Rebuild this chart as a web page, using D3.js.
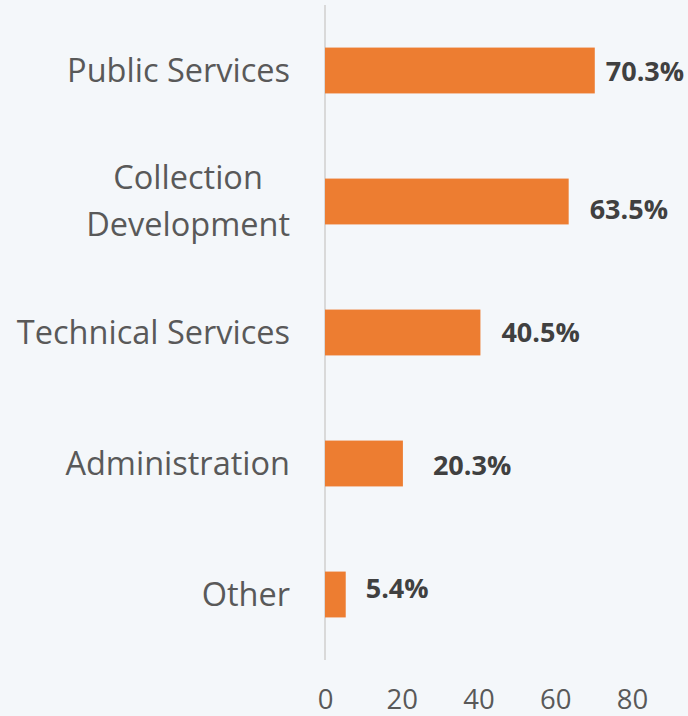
<!DOCTYPE html>
<html>
<head>
<meta charset="utf-8">
<script src="https://cdn.jsdelivr.net/npm/d3@7"></script>
<style>
  html, body { margin: 0; padding: 0; background: #f4f7fa; }
  svg { display: block; font-family: "Open Sans", sans-serif; }
</style>
</head>
<body>
<svg id="chart" width="688" height="716"></svg>
<script>
    'use strict';

    // data
    var categories = ["Public Services", "Collection\nDevelopment", "Technical Services", "Administration", "Other"];
    var values = [70.3, 63.5, 40.5, 20.3, 5.4];
    var tickValues = [0, 20, 40, 60, 80];

    // hand-placed data label nudges (style only)
    var labelDx = [11, 21, 21, 30, 20];
    var labelDy = [10, 17, 9, 11, 3];

    var svg = d3.select("#chart"),
        labelRight = 290;

    svg.append("rect")
        .attr("width", 688)
        .attr("height", 716)
        .attr("fill", "#f4f7fa");

    var x = d3.scaleLinear()
        .domain([0, 80])
        .range([325, 632]);

    var y = d3.scaleBand()
        .domain(categories)
        .range([5, 660])
        .paddingInner(0.65)
        .paddingOuter(0.325);

    // vertical axis line
    svg.append("line")
        .attr("x1", x(0)).attr("x2", x(0))
        .attr("y1", 5).attr("y2", 660)
        .attr("stroke", "#d9d9d9")
        .attr("stroke-width", 2);

    // bottom tick labels
    var xAxis = svg.append("g")
        .attr("transform", "translate(0,660)")
        .call(d3.axisBottom(x).tickValues(tickValues).tickSize(0));
    xAxis.select(".domain").remove();
    xAxis.selectAll("text")
        .attr("y", 49)
        .attr("dy", 0)
        .attr("fill", "#595959")
        .style("font-family", "'Open Sans', sans-serif")
        .style("font-size", "27.5px");

    // bars
    svg.selectAll("rect.bar")
        .data(values)
        .enter()
        .append("rect")
        .attr("class", "bar")
        .attr("x", x(0))
        .attr("y", function (d, i) { return y(categories[i]); })
        .attr("width", function (d) { return x(d) - x(0); })
        .attr("height", y.bandwidth())
        .attr("fill", "#ed7d31");

    // value labels
    svg.selectAll("text.val")
        .data(values)
        .enter()
        .append("text")
        .attr("class", "val")
        .attr("x", function (d, i) { return x(d) + labelDx[i]; })
        .attr("y", function (d, i) { return y(categories[i]) + y.bandwidth() / 2 + labelDy[i]; })
        .attr("fill", "#404040")
        .style("font-size", "27px")
        .style("font-weight", "bold")
        .text(function (d) { return d.toFixed(1) + "%"; });

    // category labels, multi-line ones centred within their block
    var lineHeight = 47;
    categories.forEach(function (c) {
        var lines = c.split("\n");
        var cy = y(c) + y.bandwidth() / 2 + 11;
        var t = svg.append("text")
            .attr("text-anchor", "middle")
            .attr("fill", "#595959")
            .style("font-size", "32.5px");
        lines.forEach(function (ln, j) {
            t.append("tspan")
                .attr("y", cy + (j - (lines.length - 1) / 2) * lineHeight)
                .text(ln);
        });
        var w = d3.max(t.selectAll("tspan").nodes(), function (n) { return n.getComputedTextLength(); });
        t.selectAll("tspan").attr("x", labelRight - w / 2);
    });
</script>
</body>
</html>
